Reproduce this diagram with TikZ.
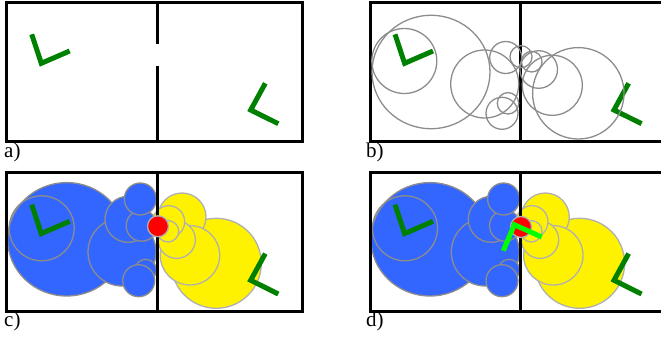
\documentclass[tikz,border=0pt]{standalone}
\usepackage{fontspec}
\setmainfont{Liberation Serif}
\definecolor{freeblue}{HTML}{3366FF}
\definecolor{darkrobot}{HTML}{008000}
\definecolor{ringgray}{HTML}{8C8C8C}
\definecolor{lightring}{HTML}{B0B0B0}
\newcommand{\robots}{
    \draw [robot] (31.7,34.3) -- (41.3,63.3) -- (69.7,51);
    \draw [robot] (265.3,83.3) -- (250.7,110) -- (278.3,123.7);
}
\newcommand{\filledrings}{
    \draw [bluering] (66.7,239.3) ellipse [x radius=59, y radius=56.7];
    \foreach \cx/\cy/\r in {122/252/34, 128/219.3/23, 141.7/225.7/15.5, 140.3/199/16, 145.7/270/10.7, 138.7/280.7/16}
        \draw [bluering] (\cx,\cy) circle (\r);
    \draw [ring] (41.7,228.3) circle (32.5);
    \foreach \cx/\cy/\r in {216.3/263.3/45, 182/217/24, 190/255.3/29.7, 176.7/239.7/18.7, 168.7/221.7/16, 168/231.3/10.7}
        \draw [yellowring] (\cx,\cy) circle (\r);
}
\begin{document}
\begin{tikzpicture}[x=1pt, y=-1pt]
    \tikzstyle{wall} = [line width=3pt, black]
    \tikzstyle{robot} = [line width=5pt, darkrobot]
    \tikzstyle{movingrobot} = [line width=5pt, green]
    \tikzstyle{ring} = [line width=1.3pt, ringgray]
    \tikzstyle{bluering} = [line width=1.3pt, draw=ringgray, fill=freeblue]
    \tikzstyle{yellowring} = [line width=1.3pt, draw=lightring, fill=yellow]
    \tikzstyle{redring} = [line width=1.3pt, draw=lightring, fill=red]
    \tikzstyle{panel} = [inner sep=0pt, anchor=base west, font=\fontsize{21}{24}\selectfont]

    \useasboundingbox (0,0) rectangle (661,337);

    % a)
    \draw [wall] (6.7,2.3) rectangle (302.7,141.3);
    \draw [wall] (157,2.3) -- (157,44);
    \draw [wall] (157,66) -- (157,141.3);
    \robots
    \node (labela) [panel] at (4,157) {a)};

    % b)
    \begin{scope}[shift={(363.3,0)}]
        \draw [wall] (6.7,2.3) rectangle (302.7,141.3);
        \draw [wall] (157,2.3) -- (157,141.3);
        \robots
        \draw [ring] (67.7,72) ellipse [x radius=59, y radius=56.7];
        \foreach \cx/\cy/\r in {41/61/32.5, 121.4/84/34, 142.4/57.5/16, 138.7/113.3/16, 144.7/103.3/10.7, 157.7/56.7/11, 168.4/61.7/10.3, 175.4/69.5/18.8, 189/85.3/30, 215/93.3/45.7}
            \draw [ring] (\cx,\cy) circle (\r);
        \node (labelb) [panel] at (2.7,157) {b)};
    \end{scope}

    % c)
    \begin{scope}[shift={(0,170.3)}]
        \begin{scope}[shift={(0,-170.3)}]
            \filledrings
        \end{scope}
        \draw [wall] (6.7,2.3) rectangle (302.7,141.3);
        \draw [wall] (157,2.3) -- (157,141.3);
        \robots
        \node (labelc) [panel] at (4,156.5) {c)};
    \end{scope}
    \draw [redring] (158,226.3) circle (10.5);

    % d)
    \begin{scope}[shift={(363.3,170.3)}]
        \begin{scope}[shift={(0,-170.3)}]
            \filledrings
        \end{scope}
        \draw [wall] (6.7,2.3) rectangle (302.7,141.3);
        \draw [wall] (157,2.3) -- (157,141.3);
        \robots
        \node (labeld) [panel] at (2.7,156.5) {d)};
    \end{scope}
    \draw [redring] (521,227) circle (10.5);
    \draw [movingrobot] (503.3,250.7) -- (514.3,224.7) -- (541.7,237);
\end{tikzpicture}
\end{document}
